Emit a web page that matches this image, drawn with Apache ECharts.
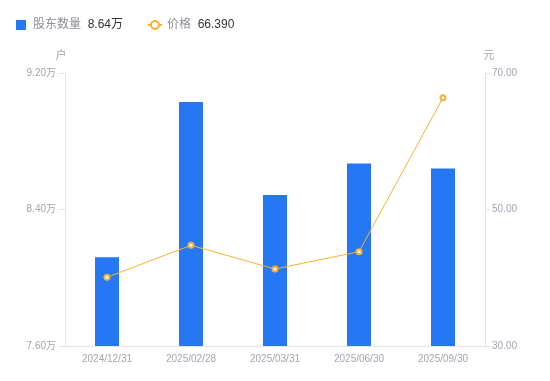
<!DOCTYPE html>
<html>
<head>
<meta charset="utf-8">
<script src="https://cdn.jsdelivr.net/npm/echarts@6/dist/echarts.min.js"></script>
<style>
html, body { margin: 0; padding: 0; background: #fff; }
#main { width: 550px; height: 381px; }
</style>
</head>
<body>
<div id="main"></div>
<script>
var dates = ['2024/12/31', '2025/02/28', '2025/03/31', '2025/06/30', '2025/09/30'];
var holders = [81200, 90300, 84850, 86700, 86400];   // 股东数量（户）
var prices = [40.07, 44.75, 41.28, 43.82, 66.39];     // 价格（元）
var holderTicks = [76000, 92000, 8000];  // min, max, interval
var priceTicks = [30, 70, 20];

var myChart = echarts.init(document.getElementById('main'));

function wan(v) {
    return (v / 10000).toFixed(2) + '万';
}

var option = {
    animation: false,
    textStyle: { fontFamily: 'Liberation Sans, Noto Sans CJK SC, sans-serif' },
    legend: {
        left: 11,
        top: 14,
        itemWidth: 14,
        itemHeight: 10,
        itemGap: 24,
        data: [
            { name: '股东数量', icon: 'path://M0,0h10v10h-10z' },
            { name: '价格' }
        ],
        formatter: function (name) {
            if (name === '股东数量') {
                return '{n|' + name + '}  {v|' + wan(holders[holders.length - 1]) + '}';
            }
            return '{n|' + name + '}  {v|' + prices[prices.length - 1].toFixed(3) + '}';
        },
        textStyle: {
            rich: {
                n: { color: '#8c8f99', fontSize: 12 },
                v: { color: '#333', fontSize: 12 }
            }
        }
    },
    grid: { left: 65, right: 65, top: 73, bottom: 35 },
    xAxis: {
        type: 'category',
        data: dates,
        axisLine: { lineStyle: { color: '#e3e4e8' } },
        axisTick: { show: false },
        axisLabel: { color: '#a3a6b0', fontSize: 10, margin: 8 }
    },
    yAxis: [
        {
            type: 'value',
            name: '户',
            nameGap: 12,
            nameTextStyle: { color: '#a3a6b0', fontSize: 11, padding: [0, 0, 0, -8] },
            min: holderTicks[0],
            max: holderTicks[1],
            interval: holderTicks[2],
            splitLine: { show: false },
            axisLine: { show: true, lineStyle: { color: '#e3e4e8' } },
            axisTick: { show: true, length: 6, lineStyle: { color: '#e3e4e8' } },
            axisLabel: { color: '#a3a6b0', fontSize: 10, margin: 9, formatter: wan }
        },
        {
            type: 'value',
            name: '元',
            nameGap: 12,
            nameTextStyle: { color: '#a3a6b0', fontSize: 11, padding: [0, 0, 0, 8] },
            min: priceTicks[0],
            max: priceTicks[1],
            interval: priceTicks[2],
            splitLine: { show: false },
            axisLine: { show: true, lineStyle: { color: '#e3e4e8' } },
            axisTick: { show: true, length: 5, lineStyle: { color: '#e3e4e8' } },
            axisLabel: { color: '#a3a6b0', fontSize: 10, margin: 7, formatter: function (v) { return v.toFixed(2); } }
        }
    ],
    series: [
        {
            name: '股东数量',
            type: 'bar',
            data: holders,
            barWidth: 24,
            itemStyle: { color: '#2577f4' }
        },
        {
            name: '价格',
            type: 'line',
            yAxisIndex: 1,
            data: prices,
            symbol: 'emptyCircle',
            symbolSize: 5,
            lineStyle: { width: 1, color: '#f8b134' },
            itemStyle: { color: '#f8b134', borderWidth: 2 }
        }
    ]
};

myChart.setOption(option);
window.addEventListener('resize', function () {
    myChart.resize();
});
</script>
</body>
</html>
